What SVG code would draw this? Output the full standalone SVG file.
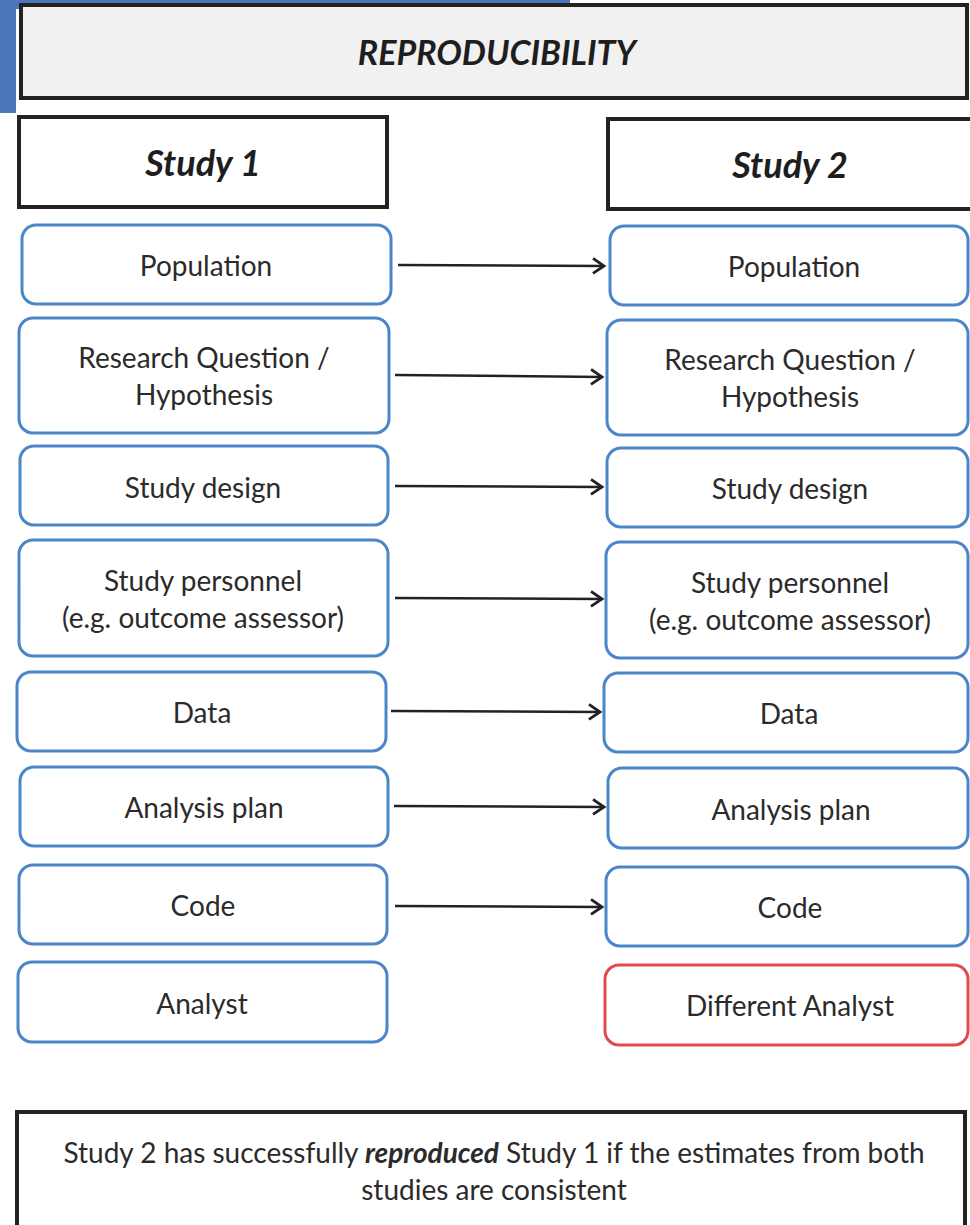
<svg xmlns="http://www.w3.org/2000/svg" width="970" height="1225" viewBox="0 0 970 1225">
<defs>
<style>
.t{font-family:Lato,"Open Sans","Liberation Sans",sans-serif;font-size:28px;fill:#2b2b2b;text-anchor:middle}
.h{font-family:Lato,"Open Sans","Liberation Sans",sans-serif;font-weight:bold;font-style:italic;fill:#1e1e1e;text-anchor:middle}
.bx{fill:#fff;stroke:#222;stroke-width:4}
.n{fill:#fff;stroke:#4a86c8;stroke-width:3}
.r{fill:#fff;stroke:#e04a4f;stroke-width:3}
.c{stroke:#222;stroke-width:2.5;fill:none}
</style>
<marker id="ah" markerWidth="16" markerHeight="18" refX="13" refY="9" orient="auto" markerUnits="userSpaceOnUse">
<path d="M2,1.5 L13,9 L2,16.5" fill="none" stroke="#222" stroke-width="2.8"/>
</marker>
</defs>
<rect width="970" height="1225" fill="#fff"/>
<g id="deco">
<rect x="0" y="0" width="570" height="9" fill="#4a78b8"/>
<rect x="0" y="0" width="16" height="113" fill="#4a78b8"/>
</g>
<g id="header">
<rect x="21" y="5" width="946" height="93" fill="#f1f1f1" stroke="#222" stroke-width="4"/>
<text class="h" x="497" y="65" font-size="34">REPRODUCIBILITY</text>
</g>
<g id="study1"><rect class="bx" x="19" y="117" width="368" height="90"/><text class="h" x="203" y="176" font-size="36">Study 1</text></g>
<g id="study2"><rect class="bx" x="608" y="119" width="370" height="90"/><text class="h" x="790" y="178" font-size="36">Study 2</text></g>

<g id="l1"><rect class="n" x="22" y="225" width="369" height="79" rx="14"/><text class="t" x="206" y="276">Population</text></g>
<g id="l2"><rect class="n" x="19" y="318" width="370" height="115" rx="14"/><text class="t" x="204" y="368">Research Question /</text><text class="t" x="204" y="405">Hypothesis</text></g>
<g id="l3"><rect class="n" x="20" y="446" width="368" height="79" rx="14"/><text class="t" x="203" y="498">Study design</text></g>
<g id="l4"><rect class="n" x="19" y="540" width="369" height="116" rx="14"/><text class="t" x="203" y="591">Study personnel</text><text class="t" x="203" y="628">(e.g. outcome assessor)</text></g>
<g id="l5"><rect class="n" x="17" y="672" width="369" height="79" rx="14"/><text class="t" x="202" y="723">Data</text></g>
<g id="l6"><rect class="n" x="20" y="767" width="368" height="79" rx="14"/><text class="t" x="204" y="818">Analysis plan</text></g>
<g id="l7"><rect class="n" x="19" y="865" width="368" height="79" rx="14"/><text class="t" x="203" y="916">Code</text></g>
<g id="l8"><rect class="n" x="18" y="962" width="369" height="80" rx="14"/><text class="t" x="202" y="1014">Analyst</text></g>

<g id="r1"><rect class="n" x="610" y="226" width="358" height="79" rx="14"/><text class="t" x="794" y="277">Population</text></g>
<g id="r2"><rect class="n" x="607" y="320" width="361" height="115" rx="14"/><text class="t" x="790" y="370">Research Question /</text><text class="t" x="790" y="407">Hypothesis</text></g>
<g id="r3"><rect class="n" x="607" y="448" width="361" height="79" rx="14"/><text class="t" x="790" y="499">Study design</text></g>
<g id="r4"><rect class="n" x="606" y="542" width="362" height="116" rx="14"/><text class="t" x="790" y="593">Study personnel</text><text class="t" x="790" y="630">(e.g. outcome assessor)</text></g>
<g id="r5"><rect class="n" x="604" y="673" width="364" height="79" rx="14"/><text class="t" x="789" y="724">Data</text></g>
<g id="r6"><rect class="n" x="608" y="768" width="360" height="80" rx="14"/><text class="t" x="791" y="820">Analysis plan</text></g>
<g id="r7"><rect class="n" x="606" y="867" width="362" height="79" rx="14"/><text class="t" x="790" y="918">Code</text></g>
<g id="r8"><rect class="r" x="605" y="965" width="363" height="80" rx="14"/><text class="t" x="790" y="1016">Different Analyst</text></g>

<g id="connectors">
<line class="c" x1="398" y1="265" x2="604" y2="266" marker-end="url(#ah)"/>
<line class="c" x1="395" y1="375" x2="602" y2="377" marker-end="url(#ah)"/>
<line class="c" x1="395" y1="486" x2="602" y2="487" marker-end="url(#ah)"/>
<line class="c" x1="395" y1="598" x2="602" y2="599" marker-end="url(#ah)"/>
<line class="c" x1="391" y1="711" x2="600" y2="712" marker-end="url(#ah)"/>
<line class="c" x1="394" y1="806" x2="604" y2="807" marker-end="url(#ah)"/>
<line class="c" x1="395" y1="906" x2="602" y2="907" marker-end="url(#ah)"/>
</g>

<g id="summary">
<rect class="bx" x="17" y="1112" width="948" height="130"/>
<text class="t" x="494" y="1163">Study 2 has successfully <tspan font-weight="bold" font-style="italic">reproduced</tspan> Study 1 if the estimates from both</text>
<text class="t" x="494" y="1200">studies are consistent</text>
</g>
</svg>
